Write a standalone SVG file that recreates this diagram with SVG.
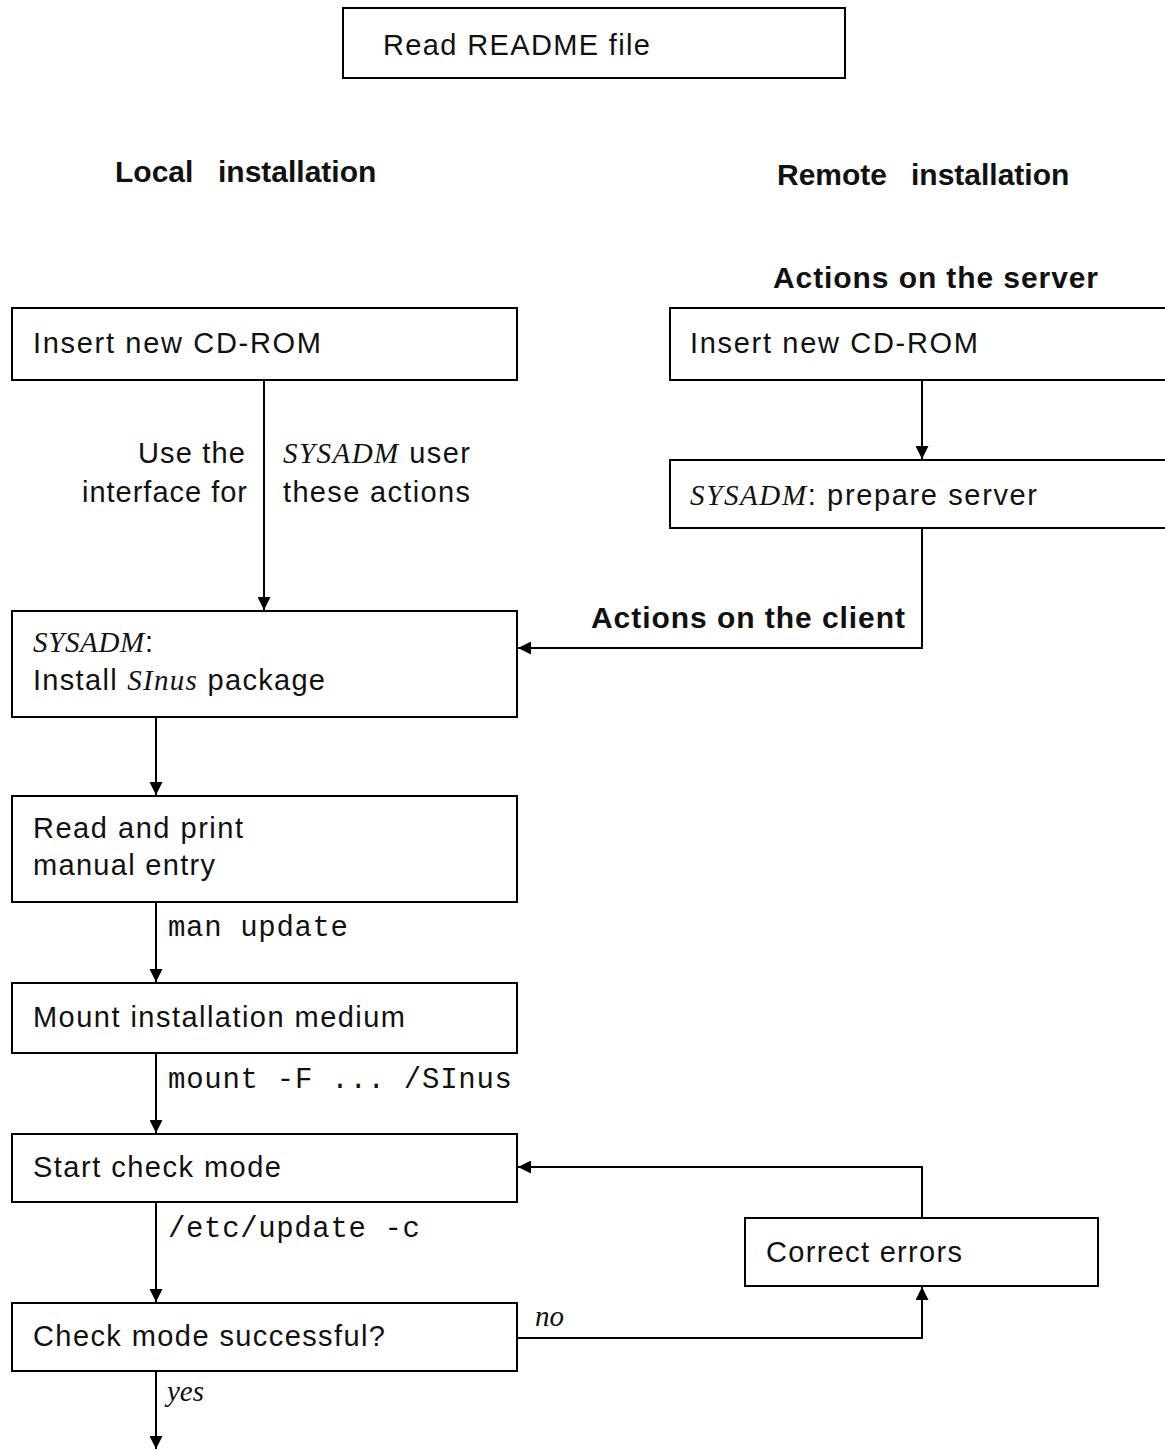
<svg xmlns="http://www.w3.org/2000/svg" width="1165" height="1450" viewBox="0 0 1165 1450">
  <defs>
    <marker id="arrow" viewBox="0 0 12 12" refX="12" refY="6" markerWidth="13" markerHeight="13" markerUnits="userSpaceOnUse" orient="auto">
      <path d="M0,0 L12,6 L0,12 z" fill="#000"/>
    </marker>
    <style>
      .box { fill: #fff; stroke: #000; stroke-width: 2; }
      .lbl { font-family: "Liberation Sans", Arial, sans-serif; font-size: 29px; fill: #111; }
      .head { font-family: "Liberation Sans", Arial, sans-serif; font-size: 30px; font-weight: bold; fill: #111; }
      .mono { font-family: "Liberation Mono", "Courier New", monospace; font-size: 29px; fill: #111; }
      .it { font-family: "Liberation Serif", "Times New Roman", serif; font-style: italic; }
      .conn path { fill: none; stroke: #000; stroke-width: 2; }
    </style>
  </defs>
  <rect width="1165" height="1450" fill="#fff"/>

  <!-- column headings -->
  <g id="headings">
    <text class="head" x="115" y="182">Local<tspan x="218">installation</tspan></text>
    <text class="head" x="777" y="185">Remote<tspan x="911">installation</tspan></text>
    <text class="head" x="773" y="288" textLength="325" lengthAdjust="spacing">Actions on the server</text>
  </g>

  <!-- nodes -->
  <g id="readme">
    <rect class="box" x="343" y="8" width="502" height="70"/>
    <text class="lbl" x="383" y="55" textLength="267" lengthAdjust="spacing">Read README file</text>
  </g>

  <g id="insert-local">
    <rect class="box" x="12" y="308" width="505" height="72"/>
    <text class="lbl" x="33" y="353" textLength="288" lengthAdjust="spacing">Insert new CD-ROM</text>
  </g>

  <g id="insert-server">
    <rect class="box" x="670" y="308" width="520" height="72"/>
    <text class="lbl" x="690" y="353" textLength="288" lengthAdjust="spacing">Insert new CD-ROM</text>
  </g>

  <g id="prepare-server">
    <rect class="box" x="670" y="460" width="520" height="68"/>
    <text class="lbl" x="690" y="505" textLength="347" lengthAdjust="spacing"><tspan class="it">SYSADM</tspan>: prepare server</text>
  </g>

  <g id="install-package">
    <rect class="box" x="12" y="611" width="505" height="106"/>
    <text class="lbl" x="33" y="652" textLength="120" lengthAdjust="spacing"><tspan class="it">SYSADM</tspan>:</text>
    <text class="lbl" x="33" y="690" textLength="292" lengthAdjust="spacing">Install <tspan class="it">SInus</tspan> package</text>
  </g>

  <g id="read-manual">
    <rect class="box" x="12" y="796" width="505" height="106"/>
    <text class="lbl" x="33" y="838" textLength="210" lengthAdjust="spacing">Read and print</text>
    <text class="lbl" x="33" y="875" textLength="182" lengthAdjust="spacing">manual entry</text>
  </g>

  <g id="mount-medium">
    <rect class="box" x="12" y="983" width="505" height="70"/>
    <text class="lbl" x="33" y="1027" textLength="372" lengthAdjust="spacing">Mount installation medium</text>
  </g>

  <g id="start-check">
    <rect class="box" x="12" y="1134" width="505" height="68"/>
    <text class="lbl" x="33" y="1177" textLength="248" lengthAdjust="spacing">Start check mode</text>
  </g>

  <g id="correct-errors">
    <rect class="box" x="745" y="1218" width="353" height="68"/>
    <text class="lbl" x="766" y="1262" textLength="196" lengthAdjust="spacing">Correct errors</text>
  </g>

  <g id="check-success">
    <rect class="box" x="12" y="1303" width="505" height="68"/>
    <text class="lbl" x="33" y="1346" textLength="352" lengthAdjust="spacing">Check mode successful?</text>
  </g>

  <!-- connectors -->
  <g id="connectors" class="conn">
    <path d="M264,380 V610" marker-end="url(#arrow)"/>
    <path d="M922,380 V459" marker-end="url(#arrow)"/>
    <path d="M922,528 V648 H518" marker-end="url(#arrow)"/>
    <path d="M156,717 V795" marker-end="url(#arrow)"/>
    <path d="M156,902 V982" marker-end="url(#arrow)"/>
    <path d="M156,1053 V1133" marker-end="url(#arrow)"/>
    <path d="M922,1218 V1167 H518" marker-end="url(#arrow)"/>
    <path d="M156,1202 V1302" marker-end="url(#arrow)"/>
    <path d="M517,1338 H922 V1287" marker-end="url(#arrow)"/>
    <path d="M156,1371 V1449" marker-end="url(#arrow)"/>
  </g>

  <!-- connector labels -->
  <g id="connector-labels">
    <text class="lbl" x="138" y="463" textLength="107" lengthAdjust="spacing">Use the</text>
    <text class="lbl" x="82" y="502" textLength="165" lengthAdjust="spacing">interface for</text>
    <text class="lbl" x="283" y="463" textLength="187" lengthAdjust="spacing"><tspan class="it">SYSADM</tspan> user</text>
    <text class="lbl" x="283" y="502" textLength="187" lengthAdjust="spacing">these actions</text>
    <text class="head" x="591" y="628" textLength="314" lengthAdjust="spacing">Actions on the client</text>
    <text class="mono" x="168" y="936" textLength="180" lengthAdjust="spacing">man update</text>
    <text class="mono" x="168" y="1088" textLength="344" lengthAdjust="spacing">mount -F ... /SInus</text>
    <text class="mono" x="168" y="1237" textLength="252" lengthAdjust="spacing">/etc/update -c</text>
    <text class="lbl it" x="535" y="1326" font-size="24">no</text>
    <text class="lbl it" x="167" y="1401" font-size="24">yes</text>
  </g>
</svg>
